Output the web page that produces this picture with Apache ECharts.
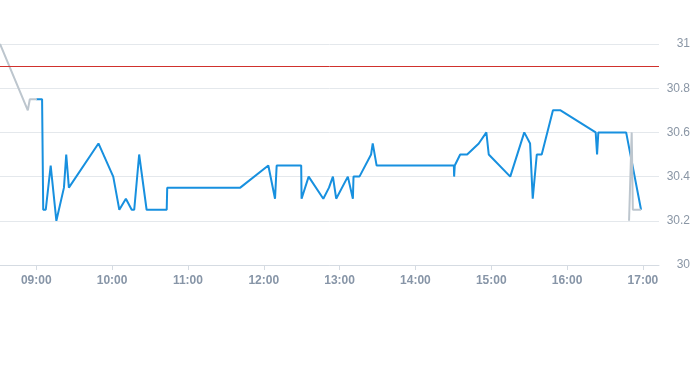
<!DOCTYPE html>
<html>
<head>
<meta charset="utf-8">
<script src="https://cdn.jsdelivr.net/npm/echarts@6/dist/echarts.min.js"></script>
<style>
html,body{margin:0;padding:0;background:#fff;}
#c{width:693px;height:365px;}
</style>
</head>
<body>
<div id="c"></div>
<script>
// axis range and tick labels
var xRange = ['08:31:18', '17:12:42'];
var xTickLabels = ['09:00','10:00','11:00','12:00','13:00','14:00','15:00','16:00','17:00'];
var yTickLabels = [30, 30.2, 30.4, 30.6, 30.8, 31];
var refLine = 30.9;

// main (blue) series
var blueTimes = ['09:00:00','09:04:36','09:05:30','09:07:30','09:11:24','09:15:54','09:21:54','09:23:42','09:25:48','09:49:12',
  '10:00:54','10:02:30','10:05:42','10:10:54','10:15:30','10:17:30','10:21:24','10:27:18','10:43:12','10:43:36',
  '11:41:24','12:03:36','12:08:54','12:10:12','12:29:36','12:29:54','12:35:30','12:47:06','12:51:36','12:54:42',
  '12:57:18','13:06:30','13:10:30','13:11:00','13:15:42','13:24:54','13:26:12','13:29:18','14:30:24','14:30:36',
  '14:31:06','14:35:24','14:40:54','14:50:06','14:56:06','14:58:00','15:15:00','15:26:06','15:30:42','15:32:48',
  '15:36:00','15:39:54','15:48:48','15:54:48','16:22:36','16:23:42','16:24:42','16:46:42','16:58:30'];
var blueValues = [30.75,30.75,30.25,30.25,30.45,30.20,30.35,30.50,30.35,30.55,
  30.40,30.35,30.25,30.30,30.25,30.25,30.50,30.25,30.25,30.35,
  30.35,30.45,30.30,30.45,30.45,30.30,30.40,30.30,30.35,30.40,
  30.30,30.40,30.30,30.40,30.40,30.50,30.55,30.45,30.45,30.40,
  30.45,30.50,30.50,30.55,30.60,30.50,30.40,30.60,30.55,30.30,
  30.50,30.50,30.70,30.70,30.60,30.50,30.60,30.60,30.25];

// secondary (gray) series; null breaks the line
var grayTimes = ['08:31:18','08:53:18','08:54:54','09:00:30','09:00:31','16:49:00','16:51:06','16:52:00','16:58:30'];
var grayValues = [31.0,30.70,30.75,30.75,null,30.20,30.60,30.25,30.25];

function toMin(s){var p=s.split(':');return (+p[0])*60+(+p[1])+(p[2]?(+p[2])/60:0);}
function pad(n){return (n<10?'0':'')+n;}
function fmt(m){m=Math.round(m);return pad(Math.floor(m/60))+':'+pad(m%60);}
function pairs(ts,vs){return ts.map(function(t,i){return [toMin(t), vs[i]];});}

var xTicks = xTickLabels.map(toMin);
var chart = echarts.init(document.getElementById('c'), null, {renderer:'canvas'});
chart.setOption({
  animation:false,
  backgroundColor:'#ffffff',
  grid:{left:0,right:30,top:44,bottom:100,containLabel:false},
  xAxis:{
    type:'value',
    min:toMin(xRange[0]), max:toMin(xRange[1]),
    axisLine:{show:true,lineStyle:{color:'#d5dbe2',width:1}},
    axisTick:{show:true,length:5,customValues:xTicks,lineStyle:{color:'#d5dbe2'}},
    axisLabel:{customValues:xTicks,formatter:function(v){return fmt(v);},color:'#8795a7',fontSize:12,fontWeight:'bold',margin:10,fontFamily:'Liberation Sans, Arial, sans-serif'},
    splitLine:{show:false}
  },
  yAxis:{
    type:'value',position:'right',
    min:yTickLabels[0],max:yTickLabels[yTickLabels.length-1],interval:0.2,
    axisLine:{show:false},axisTick:{show:false},
    axisLabel:{color:'#8a96a5',fontSize:12,align:'right',margin:31,fontFamily:'Liberation Sans, Arial, sans-serif',
      formatter:function(v){return String(Math.round(v*10)/10);}},
    splitLine:{lineStyle:{color:'#e4e8ec',width:1}}
  },
  series:[
    {type:'line',data:pairs(blueTimes,blueValues),showSymbol:false,symbol:'none',
      lineStyle:{color:'#1790df',width:2},itemStyle:{color:'#1790df'},z:2,
      markLine:{silent:true,symbol:['none','none'],label:{show:false},
        lineStyle:{color:'#d0312d',width:1,type:'solid'},data:[{yAxis:refLine}]}},
    {type:'line',data:pairs(grayTimes,grayValues),showSymbol:false,symbol:'none',connectNulls:false,
      lineStyle:{color:'#bdc6ce',width:2},itemStyle:{color:'#bdc6ce'},z:3}
  ]
});
</script>
</body>
</html>
